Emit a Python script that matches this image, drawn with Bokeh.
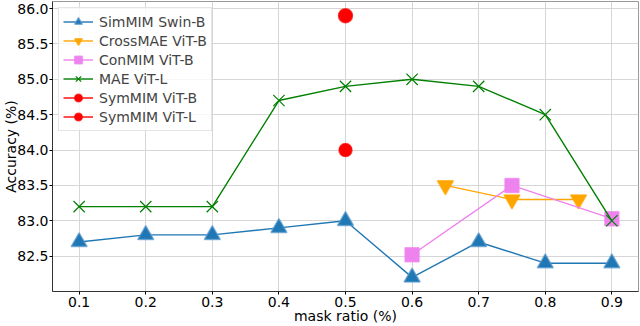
from bokeh.plotting import figure
from bokeh.embed import file_html
from bokeh.resources import INLINE
from bokeh.models import FixedTicker, Legend, LegendItem, CustomJSTickFormatter

simmim_x = [0.1, 0.2, 0.3, 0.4, 0.5, 0.6, 0.7, 0.8, 0.9]
simmim_y = [82.7, 82.8, 82.8, 82.9, 83.0, 82.2, 82.7, 82.4, 82.4]
crossmae_x = [0.65, 0.75, 0.85]
crossmae_y = [83.5, 83.3, 83.3]
conmim_x = [0.6, 0.75, 0.9]
conmim_y = [82.52, 83.5, 83.03]
mae_x = [0.1, 0.2, 0.3, 0.4, 0.5, 0.6, 0.7, 0.8, 0.9]
mae_y = [83.2, 83.2, 83.2, 84.7, 84.9, 85.0, 84.9, 84.5, 83.0]
symb_x = [0.5]
symb_y = [84.0]
syml_x = [0.5]
syml_y = [85.9]
x_ticks = [0.1, 0.2, 0.3, 0.4, 0.5, 0.6, 0.7, 0.8, 0.9]
y_ticks = [82.5, 83.0, 83.5, 84.0, 84.5, 85.0, 85.5, 86.0]

FONT = "DejaVu Sans"

p = figure(width=640, height=326, output_backend="svg", toolbar_location=None,
           x_range=(0.06, 0.94), y_range=(82.0, 86.1),
           min_border_left=0, min_border_right=2, min_border_top=1, min_border_bottom=0)

p.xaxis.ticker = FixedTicker(ticks=x_ticks)
p.yaxis.ticker = FixedTicker(ticks=y_ticks)
p.yaxis.formatter = CustomJSTickFormatter(code="return tick.toFixed(1);")
p.xaxis.formatter = CustomJSTickFormatter(code="return tick.toFixed(1);")

for ax in (p.xaxis[0], p.yaxis[0]):
    ax.major_label_text_font = FONT
    ax.major_label_text_font_size = "14px"
    ax.major_label_text_color = "black"
    ax.axis_label_text_font = FONT
    ax.axis_label_text_font_size = "14px"
    ax.axis_label_text_font_style = "normal"
    ax.axis_label_text_color = "black"
    ax.minor_tick_line_color = None
    ax.major_tick_out = 3
    ax.major_tick_in = 0
    ax.axis_line_color = "#333333"
p.xaxis.axis_label = "mask ratio (%)"
p.yaxis.axis_label = "Accuracy (%)"
p.xaxis.axis_label_standoff = -2
p.yaxis.axis_label_standoff = -5
p.xaxis.major_label_standoff = 2
p.yaxis.major_label_standoff = 1

p.grid.grid_line_color = "#d6d6d6"
p.grid.grid_line_width = 1
p.outline_line_color = "#999999"
p.background_fill_color = "white"
p.border_fill_color = "white"

items = []

def series(x, y, color, marker, size, label, line_color=None, lw=1.4):
    r1 = p.line(x, y, line_color=color, line_width=lw)
    if marker == "x":
        r2 = p.scatter(x, y, marker="x", size=size, line_color=color, line_width=1.2)
    else:
        r2 = p.scatter(x, y, marker=marker, size=size, fill_color=color,
                       line_color=line_color or color, line_width=1.5, line_alpha=0.7)
    items.append(LegendItem(label=label, renderers=[r1, r2]))

series(simmim_x, simmim_y, "#1f77b4", "triangle", 16, "SimMIM Swin-B", line_color="#5b9bd0")
series(crossmae_x, crossmae_y, "#ffa500", "inverted_triangle", 16, "CrossMAE ViT-B")
series(conmim_x, conmim_y, "#ee82ee", "square", 14, "ConMIM ViT-B")
series(mae_x, mae_y, "#008000", "x", 16, "MAE ViT-L")
series(symb_x, symb_y, "#ff0000", "circle", 13, "SymMIM ViT-B")
series(syml_x, syml_y, "#ff0000", "circle", 14, "SymMIM ViT-L")

legend = Legend(items=items, location="top_left",
                label_text_font=FONT, label_text_font_size="14px",
                glyph_width=30, glyph_height=19, spacing=0, padding=4,
                label_standoff=6, margin=6, label_height=17,
                border_line_color="#cccccc", border_line_width=1,
                background_fill_alpha=0.8)
p.add_layout(legend)

open("out.html", "w").write(file_html(p, INLINE))
